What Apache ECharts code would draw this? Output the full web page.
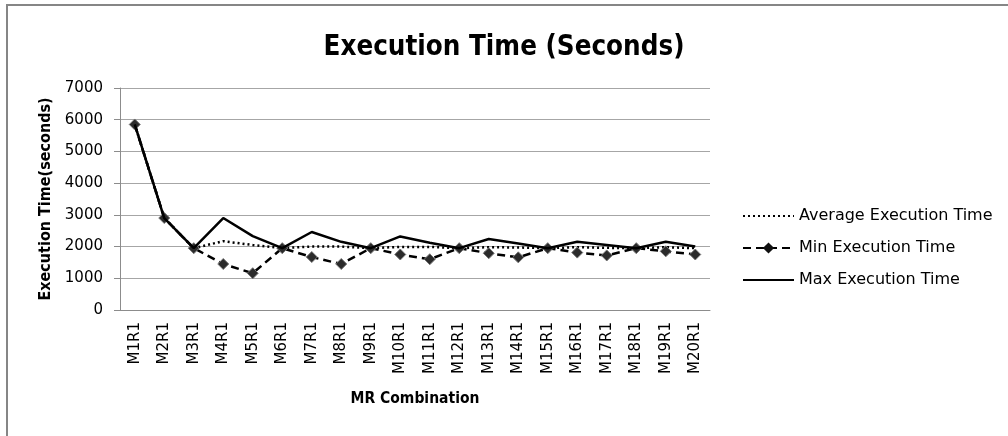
<!DOCTYPE html>
<html>
<head>
<meta charset="utf-8">
<script src="https://cdn.jsdelivr.net/npm/echarts@6/dist/echarts.min.js"></script>
<style>
html,body{margin:0;padding:0;background:#fff;}
#chart{width:1008px;height:436px;}
</style>
</head>
<body>
<div id="chart"></div>
<script>
const categories = ['M1R1','M2R1','M3R1','M4R1','M5R1','M6R1','M7R1','M8R1','M9R1','M10R1','M11R1','M12R1','M13R1','M14R1','M15R1','M16R1','M17R1','M18R1','M19R1','M20R1'];
const avgTime = [5850, 2900, 1950, 2170, 2050, 1950, 2000, 2000, 1950, 1990, 1990, 1950, 1980, 1970, 1950, 1980, 1960, 1950, 1980, 1950];
const minTime = [5850, 2900, 1950, 1450, 1160, 1950, 1670, 1450, 1950, 1750, 1600, 1950, 1790, 1660, 1950, 1810, 1720, 1950, 1850, 1750];
const maxTime = [5850, 2900, 1950, 2900, 2330, 1950, 2460, 2150, 1950, 2320, 2120, 1950, 2240, 2100, 1950, 2150, 2050, 1950, 2150, 2000];
const seriesNames = ['Average Execution Time', 'Min Execution Time', 'Max Execution Time'];

const chart = echarts.init(document.getElementById('chart'), null, {renderer: 'canvas'});
const boldFont = "'Liberation Sans Narrow', 'DejaVu Sans Condensed', 'Liberation Sans', sans-serif";
const plainFont = "'DejaVu Sans', sans-serif";

chart.setOption({
  animation: false,
  backgroundColor: '#ffffff',
  graphic: [{
    type: 'rect',
    shape: {x: 7, y: 5, width: 1100, height: 500},
    style: {fill: 'none', stroke: '#868686', lineWidth: 2},
    silent: true
  }],
  title: {
    text: 'Execution Time (Seconds)',
    left: 'center',
    top: 29,
    textStyle: {fontFamily: boldFont, fontWeight: 'bold', fontSize: 27.5, color: '#000'}
  },
  legend: {
    orient: 'vertical',
    left: 737,
    top: 203,
    itemWidth: 51,
    itemHeight: 14,
    itemGap: 16,
    data: [
      {name: seriesNames[0], itemStyle: {opacity: 0}},
      {name: seriesNames[1], itemStyle: {color: '#111', borderWidth: 0}},
      {name: seriesNames[2], itemStyle: {opacity: 0}}
    ],
    textStyle: {fontFamily: plainFont, fontSize: 16, color: '#000'}
  },
  grid: {left: 120, right: 298, top: 88, bottom: 126, containLabel: false},
  xAxis: {
    type: 'category',
    data: categories,
    boundaryGap: true,
    name: 'MR Combination',
    nameLocation: 'middle',
    nameGap: 81,
    nameTextStyle: {fontFamily: boldFont, fontWeight: 'bold', fontSize: 15.5, color: '#000'},
    axisLine: {lineStyle: {color: '#8c8c8c', width: 1}},
    axisTick: {show: false},
    axisLabel: {interval: 0, rotate: 90, margin: 12, fontFamily: plainFont, fontSize: 15, color: '#000'}
  },
  yAxis: {
    type: 'value',
    min: 0,
    max: 7000,
    interval: 1000,
    name: 'Execution Time(seconds)',
    nameLocation: 'middle',
    nameGap: 66,
    nameTextStyle: {fontFamily: boldFont, fontWeight: 'bold', fontSize: 16, color: '#000'},
    axisLine: {show: true, lineStyle: {color: '#8c8c8c', width: 1}},
    axisTick: {show: true, inside: false, length: 6, lineStyle: {color: '#8c8c8c'}},
    axisLabel: {margin: 17, fontFamily: plainFont, fontSize: 15, color: '#000', formatter: function (v) { return String(v); }},
    splitLine: {show: true, lineStyle: {color: '#a6a6a6', width: 1}}
  },
  series: [
    {
      name: seriesNames[0],
      type: 'line',
      data: avgTime,
      symbol: 'none',
      lineStyle: {color: '#000', width: 2.5, type: [2, 3]},
      itemStyle: {color: '#000'},
      z: 2
    },
    {
      name: seriesNames[1],
      type: 'line',
      data: minTime,
      symbol: 'diamond',
      symbolSize: 11,
      lineStyle: {color: '#000', width: 2.5, type: [8, 5]},
      itemStyle: {color: '#2b2b2b', borderColor: '#777', borderWidth: 1},
      z: 3
    },
    {
      name: seriesNames[2],
      type: 'line',
      data: maxTime,
      symbol: 'none',
      lineStyle: {color: '#000', width: 2.5},
      itemStyle: {color: '#000'},
      z: 4
    }
  ]
});
</script>
</body>
</html>
